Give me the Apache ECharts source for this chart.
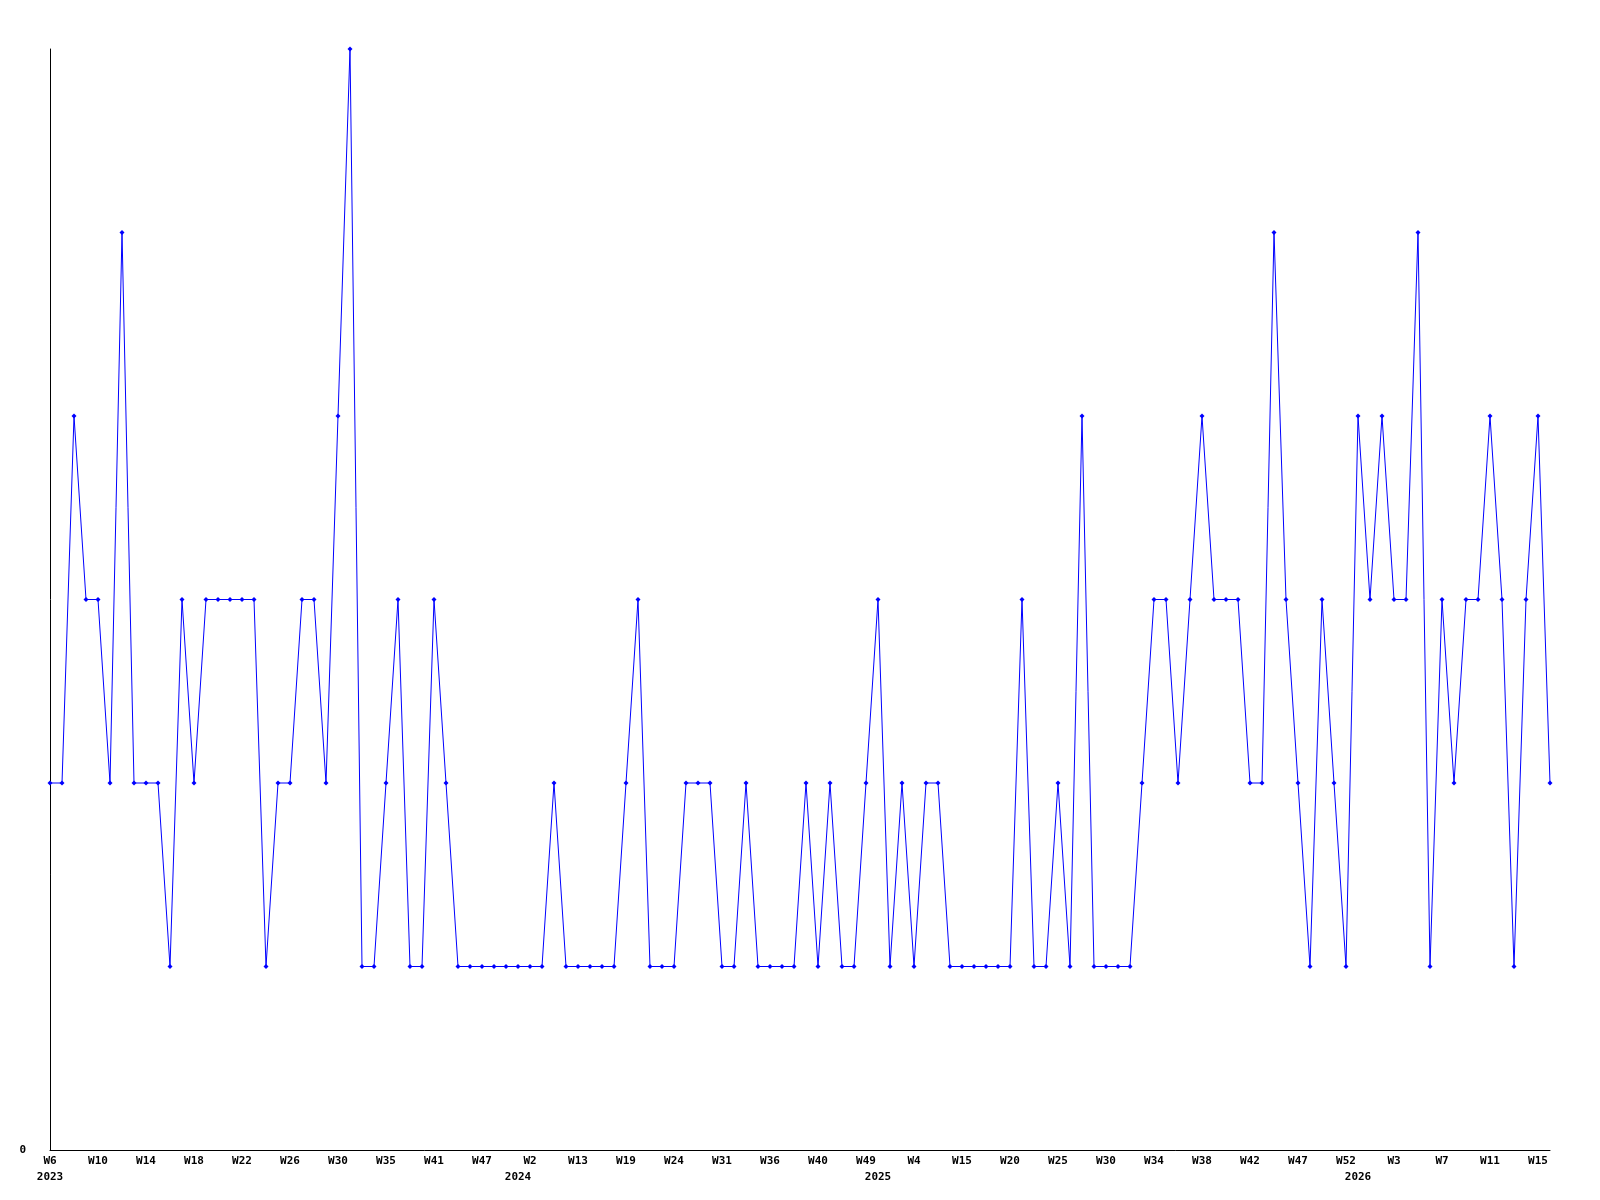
<!DOCTYPE html>
<html>
<head>
<meta charset="utf-8">
<script src="https://cdn.jsdelivr.net/npm/echarts@6/dist/echarts.min.js"></script>
<style>
  html, body { margin: 0; padding: 0; background: #fff; }
  #linechart { width: 1600px; height: 1200px; }
</style>
</head>
<body>
<div id="linechart"></div>
<script>
// week numbers per data point (year rolls over when the number drops)
const weekNums = [
  6, 7, 8, 9, 10, 11, 12, 13, 14,
  15, 16, 17, 18, 19, 20, 21, 22, 23, 24, 25, 26, 27, 28, 29, 30,
  31, 32, 33, 35, 37, 38, 40, 41, 42, 44, 45, 47, 49, 51, 1, 2,
  4, 7, 10, 13, 14, 16, 17, 19, 20, 21, 23, 24, 26, 28, 29, 31,
  32, 33, 35, 36, 37, 38, 39, 40, 42, 44, 47, 49, 0, 1, 3, 4,
  7, 10, 13, 15, 16, 17, 19, 20, 21, 22, 24, 25, 26, 27, 29, 30,
  31, 32, 33, 34, 35, 36, 37, 38, 39, 40, 41, 42, 43, 44, 46, 47,
  48, 49, 51, 52, 0, 1, 2, 3, 4, 5, 6, 7, 8, 9, 10, 11,
  12, 13, 14, 15, 16
];
const firstYear = 2023;
const counts = [
  2, 2, 4, 3, 3, 2, 5, 2, 2, 2,
  1, 3, 2, 3, 3, 3, 3, 3, 1, 2,
  2, 3, 3, 2, 4, 6, 1, 1, 2, 3,
  1, 1, 3, 2, 1, 1, 1, 1, 1, 1,
  1, 1, 2, 1, 1, 1, 1, 1, 2, 3,
  1, 1, 1, 2, 2, 2, 1, 1, 2, 1,
  1, 1, 1, 2, 1, 2, 1, 1, 2, 3,
  1, 2, 1, 2, 2, 1, 1, 1, 1, 1,
  1, 3, 1, 1, 2, 1, 4, 1, 1, 1,
  1, 2, 3, 3, 2, 3, 4, 3, 3, 3,
  2, 2, 5, 3, 2, 1, 3, 2, 1, 4,
  3, 4, 3, 3, 5, 1, 3, 2, 3, 3,
  4, 3, 1, 3, 4, 2
];
const yMax = 6;

// build labels
const weekLabels = weekNums.map(w => 'W' + w);
const yearLabels = [];
let year = firstYear;
weekNums.forEach((w, i) => {
  if (i > 0 && w < weekNums[i - 1]) year++;
  yearLabels.push(i === 0 || w < weekNums[i - 1] ? String(year) : '');
});

const font = {
  fontFamily: 'DejaVu Sans Mono',
  fontWeight: 'bold',
  fontSize: 11,
  color: '#000'
};

const myChart = echarts.init(document.getElementById('linechart'));
myChart.setOption({
  backgroundColor: '#fff',
  animation: false,
  grid: { left: 50, right: 50, top: 49, bottom: 50 },
  xAxis: [
    {
      type: 'category',
      data: weekLabels,
      boundaryGap: false,
      axisLine: { lineStyle: { color: '#000', width: 1 } },
      axisTick: { show: false },
      axisLabel: Object.assign({ interval: 3, margin: 6 }, font),
      splitLine: { show: false }
    },
    {
      type: 'category',
      data: yearLabels,
      boundaryGap: false,
      position: 'bottom',
      offset: 16,
      axisLine: { show: false },
      axisTick: { show: false },
      axisLabel: Object.assign({ interval: 0, margin: 6 }, font),
      splitLine: { show: false }
    }
  ],
  yAxis: {
    type: 'value',
    min: 0,
    max: yMax,
    interval: 1,
    axisLine: { show: true, lineStyle: { color: '#000', width: 1 } },
    axisTick: { show: false },
    splitLine: { show: false },
    axisLabel: Object.assign({
      margin: 24,
      formatter: v => (v === 0 ? '0' : '')
    }, font)
  },
  series: [
    {
      type: 'line',
      data: counts,
      symbol: 'diamond',
      symbolSize: 5,
      showAllSymbol: true,
      itemStyle: { color: '#0000ff' },
      lineStyle: { color: '#0000ff', width: 1 }
    }
  ]
});
</script>
</body>
</html>
